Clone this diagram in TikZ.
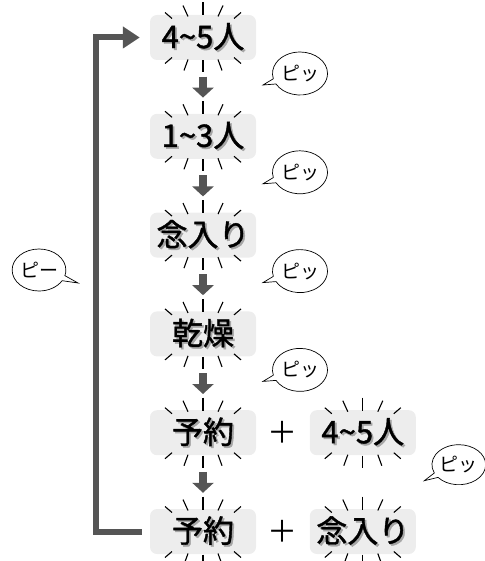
\documentclass[tikz,border=0pt]{standalone}
\usepackage{fontspec}
\usepackage{tikz}
\usetikzlibrary{arrows.meta, positioning, calc, shapes.callouts}
\newfontfamily\jp{Noto Sans CJK JP}
\newfontfamily\jpb{Noto Sans CJK JP}[FakeBold=1.3]
\definecolor{bxgray}{HTML}{EDEDED}
\definecolor{argray}{HTML}{555555}
% text with a soft drop shadow
\newcommand\shtext[1]{\rlap{\hspace{1.8pt}\raisebox{-1.8pt}{\textcolor{black!35}{#1}}}#1}

\begin{document}
\begin{tikzpicture}[x=1pt, y=-1pt,
  box/.style={rectangle, fill=bxgray, rounded corners=7pt, minimum width=106pt,
    minimum height=45pt, inner sep=0pt, font=\jpb\fontsize{31}{31}\selectfont},
  ray/.style={line width=1.1pt, black},
  dn/.style={-{Triangle[width=21pt, length=10pt]}, line width=7.5pt, argray,
    shorten <=16.5pt, shorten >=16pt},
  fb/.style={-{Triangle[width=21pt, length=17pt]}, line width=6pt, argray,
    shorten <=8pt, shorten >=10pt},
  bubble/.style={ellipse callout, draw, fill=white, line width=0.7pt, minimum width=55pt,
    minimum height=43pt, inner sep=0pt, font=\jp\fontsize{19}{19}\selectfont},
  plus/.style={font=\jp\fontsize{30}{30}\selectfont},
  node distance=53.4pt,
]
  \useasboundingbox (0,0) rectangle (484,561);

  \node[box] (b1) at (203,37.5) {\shtext{4\textasciitilde5人}};
  \node[box, below=of b1] (b2) {\shtext{1\textasciitilde3人}};
  \node[box, below=of b2] (b3) {\shtext{念入り}};
  \node[box, below=of b3] (b4) {\shtext{乾燥}};
  \node[box, below=of b4] (b5) {\shtext{予約}};
  \node[box, below=of b5] (b6) {\shtext{予約}};
  \node[box, right=of b5] (c5) {\shtext{4\textasciitilde5人}};
  \node[box, right=of b6] (c6) {\shtext{念入り}};
  \node[plus] (p5) at ($(b5.east)!0.5!(c5.west)$) {＋};
  \node[plus] (p6) at ($(b6.east)!0.5!(c6.west)$) {＋};

  % sparkle rays round each box
  \foreach \n in {b1,b2,b3,b4,b5,b6,c5,c6}
    \foreach \ax/\ay/\bx/\by in {0/-35/0/-22, -20/-32/-15/-21, 20/-32/15/-21,
        -38/-25/-31/-19, 38/-25/31/-19, 0/23/0/35, -19/33/-15/22, 19/33/15/22,
        -38/26/-31/20, 38/26/31/20}
      \draw[ray] ($(\n)+(\ax,\ay)$) -- ($(\n)+(\bx,\by)$);

  \foreach \a/\b in {b1/b2,b2/b3,b3/b4,b4/b5,b5/b6}
    \draw[dn] (\a.south) -- (\b.north);

  \coordinate (loop) at (96,283);
  \draw[fb] (b6.west) -| (loop) |- (b1.west);

  \node[bubble, callout absolute pointer={($(b1)+(60,47.5)$)}] (s1) at ($(b1)+(97,36)$) {ピッ};
  \node[bubble, callout absolute pointer={($(b2)+(60,47.5)$)}] (s2) at ($(b2)+(97,36)$) {ピッ};
  \node[bubble, callout absolute pointer={($(b3)+(60,47.5)$)}] (s3) at ($(b3)+(97,36)$) {ピッ};
  \node[bubble, callout absolute pointer={($(b4)+(60,47.5)$)}] (s4) at ($(b4)+(97,36)$) {ピッ};
  \node[bubble, minimum width=50pt, minimum height=40pt,
    callout absolute pointer={($(c5)+(61.5,48)$)}] (s5) at ($(c5)+(96,32)$) {ピッ};
  \node[bubble, minimum width=53pt, minimum height=42pt,
    callout absolute pointer={(78,283)}] (s0) at (39,270) {ピー};
\end{tikzpicture}
\end{document}
